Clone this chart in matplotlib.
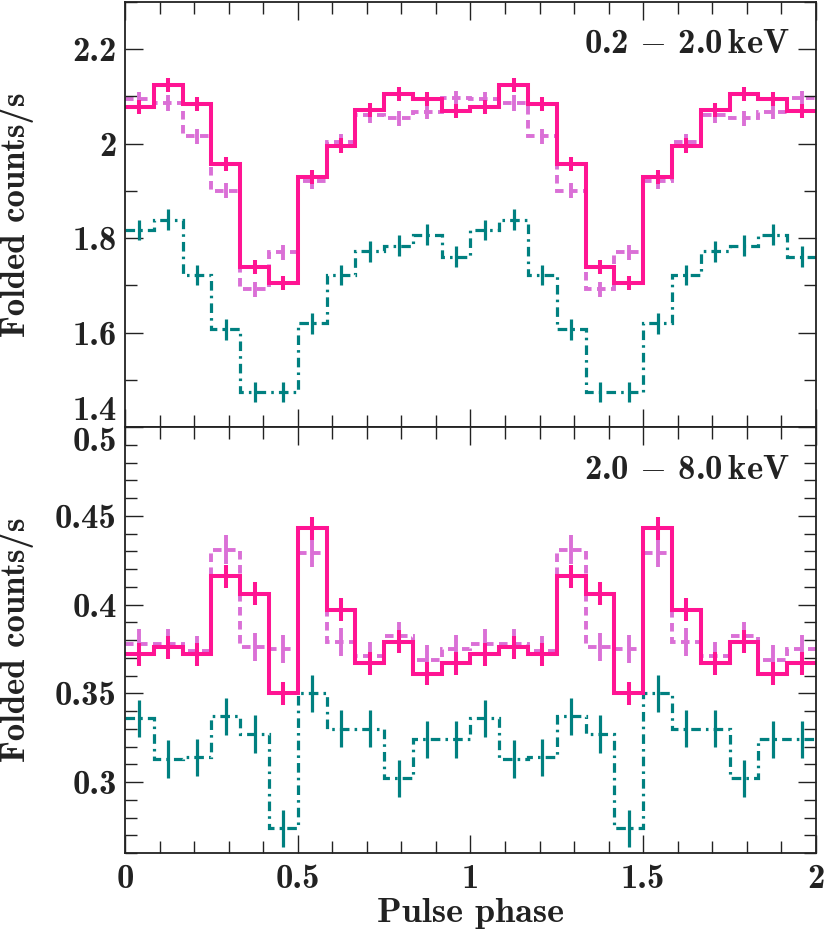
import numpy as np
import matplotlib.pyplot as plt
from matplotlib.ticker import MultipleLocator, FuncFormatter

plt.rcParams['font.family'] = 'cmb10'
plt.rcParams['mathtext.fontset'] = 'custom'
plt.rcParams['mathtext.rm'] = 'cmb10'
plt.rcParams['mathtext.bf'] = 'cmb10'
plt.rcParams['mathtext.sf'] = 'cmsy10'
plt.rcParams['mathtext.fallback'] = 'cm'
plt.rcParams['axes.unicode_minus'] = False

# 12 phase bins, shown twice (phase 0-2)
nbin = 12

# soft band 0.2-2.0 keV
soft_pink = [2.077, 2.124, 2.084, 1.957, 1.738, 1.705, 1.930, 1.996, 2.072, 2.105, 2.095, 2.069]
soft_pink_err = [0.015] * nbin
soft_orchid = [2.094, 2.086, 2.016, 1.900, 1.692, 1.770, 1.921, 2.004, 2.060, 2.054, 2.068, 2.096]
soft_orchid_err = [0.016] * nbin
soft_teal = [1.817, 1.839, 1.722, 1.607, 1.474, 1.474, 1.620, 1.722, 1.772, 1.784, 1.807, 1.761]
soft_teal_err = [0.022] * nbin

# hard band 2.0-8.0 keV
hard_pink = [0.372, 0.376, 0.372, 0.416, 0.406, 0.350, 0.443, 0.397, 0.367, 0.379, 0.361, 0.367]
hard_pink_err = [0.0065] * nbin
hard_orchid = [0.378, 0.378, 0.374, 0.431, 0.376, 0.375, 0.429, 0.379, 0.371, 0.382, 0.369, 0.375]
hard_orchid_err = [0.008] * nbin
hard_teal = [0.336, 0.313, 0.314, 0.337, 0.327, 0.274, 0.350, 0.330, 0.330, 0.302, 0.324, 0.324]
hard_teal_err = [0.0105] * nbin

edges = np.arange(2 * nbin + 1) / nbin
centers = (edges[:-1] + edges[1:]) / 2


def draw(ax, vals, errs, color, ls, lw):
    v = np.tile(vals, 2)
    e = np.tile(errs, 2)
    ax.stairs(v, edges, baseline=None, color=color, ls=ls, lw=lw)
    ax.errorbar(centers, v, yerr=e, fmt='none', ecolor=color, elinewidth=lw, capsize=0)


fig = plt.figure(figsize=(8.3, 9.33), dpi=100)
ax1 = fig.add_axes([0.1506, 0.5423, 0.8325, 0.4556])
ax2 = fig.add_axes([0.1506, 0.0857, 0.8325, 0.4566], sharex=ax1)

draw(ax1, soft_orchid, soft_orchid_err, '#DA70D6', (0, (2.2, 1.4)), 2.8)
draw(ax1, soft_teal, soft_teal_err, '#008080', (0, (3, 1.6, 0.8, 1.6)), 2.3)
draw(ax1, soft_pink, soft_pink_err, '#FF1493', '-', 2.9)

draw(ax2, hard_orchid, hard_orchid_err, '#DA70D6', (0, (2.2, 1.4)), 2.8)
draw(ax2, hard_teal, hard_teal_err, '#008080', (0, (3, 1.6, 0.8, 1.6)), 2.3)
draw(ax2, hard_pink, hard_pink_err, '#FF1493', '-', 2.9)

fmt = FuncFormatter(lambda v, p: f'{v:g}')
for ax in (ax1, ax2):
    ax.set_xlim(0, 2)
    ax.xaxis.set_major_locator(MultipleLocator(0.5))
    ax.xaxis.set_minor_locator(MultipleLocator(0.1))
    ax.xaxis.set_major_formatter(fmt)
    ax.yaxis.set_major_formatter(fmt)
    ax.tick_params(which='both', direction='in', top=True, right=True, width=1.0,
                   labelsize=25, colors='#222222')
    ax.tick_params(axis='x', pad=8)
    ax.tick_params(axis='y', pad=6)
    ax.tick_params(which='major', length=13)
    ax.tick_params(which='minor', length=8.5)
    for s in ax.spines.values():
        s.set_linewidth(1.3)
        s.set_color('#222222')
    ax.set_ylabel('Folded counts/s', fontsize=25, color='#222222')
    ax.yaxis.set_label_coords(-0.131, 0.5)

ax1.set_ylim(1.4, 2.3)
ax1.yaxis.set_major_locator(MultipleLocator(0.2))
ax1.yaxis.set_minor_locator(MultipleLocator(0.1))
ax1.tick_params(labelbottom=False)

ax2.set_ylim(0.26, 0.50)
ax2.yaxis.set_major_locator(MultipleLocator(0.05))
ax2.yaxis.set_minor_locator(MultipleLocator(0.01))
ax2.set_xlabel('Pulse phase', fontsize=26, color='#222222', labelpad=2)

# cmsy10 holds the TeX minus sign at code point 0xA1
ax1.text(0.962, 0.899, '$0.2\\ \\mathsf{\u00a1}\\ 2.0\\,\\mathrm{keV}$', transform=ax1.transAxes,
         ha='right', va='center', fontsize=25, color='#222222')
ax2.text(0.962, 0.899, '$2.0\\ \\mathsf{\u00a1}\\ 8.0\\,\\mathrm{keV}$', transform=ax2.transAxes,
         ha='right', va='center', fontsize=25, color='#222222')

fig.canvas.draw()
for t in ax1.get_yticklabels():
    if t.get_text() == '1.4':
        t.set_va('bottom')
for t in ax2.get_yticklabels():
    if t.get_text() == '0.5':
        t.set_va('top')

fig.savefig('out.png', dpi=100)
